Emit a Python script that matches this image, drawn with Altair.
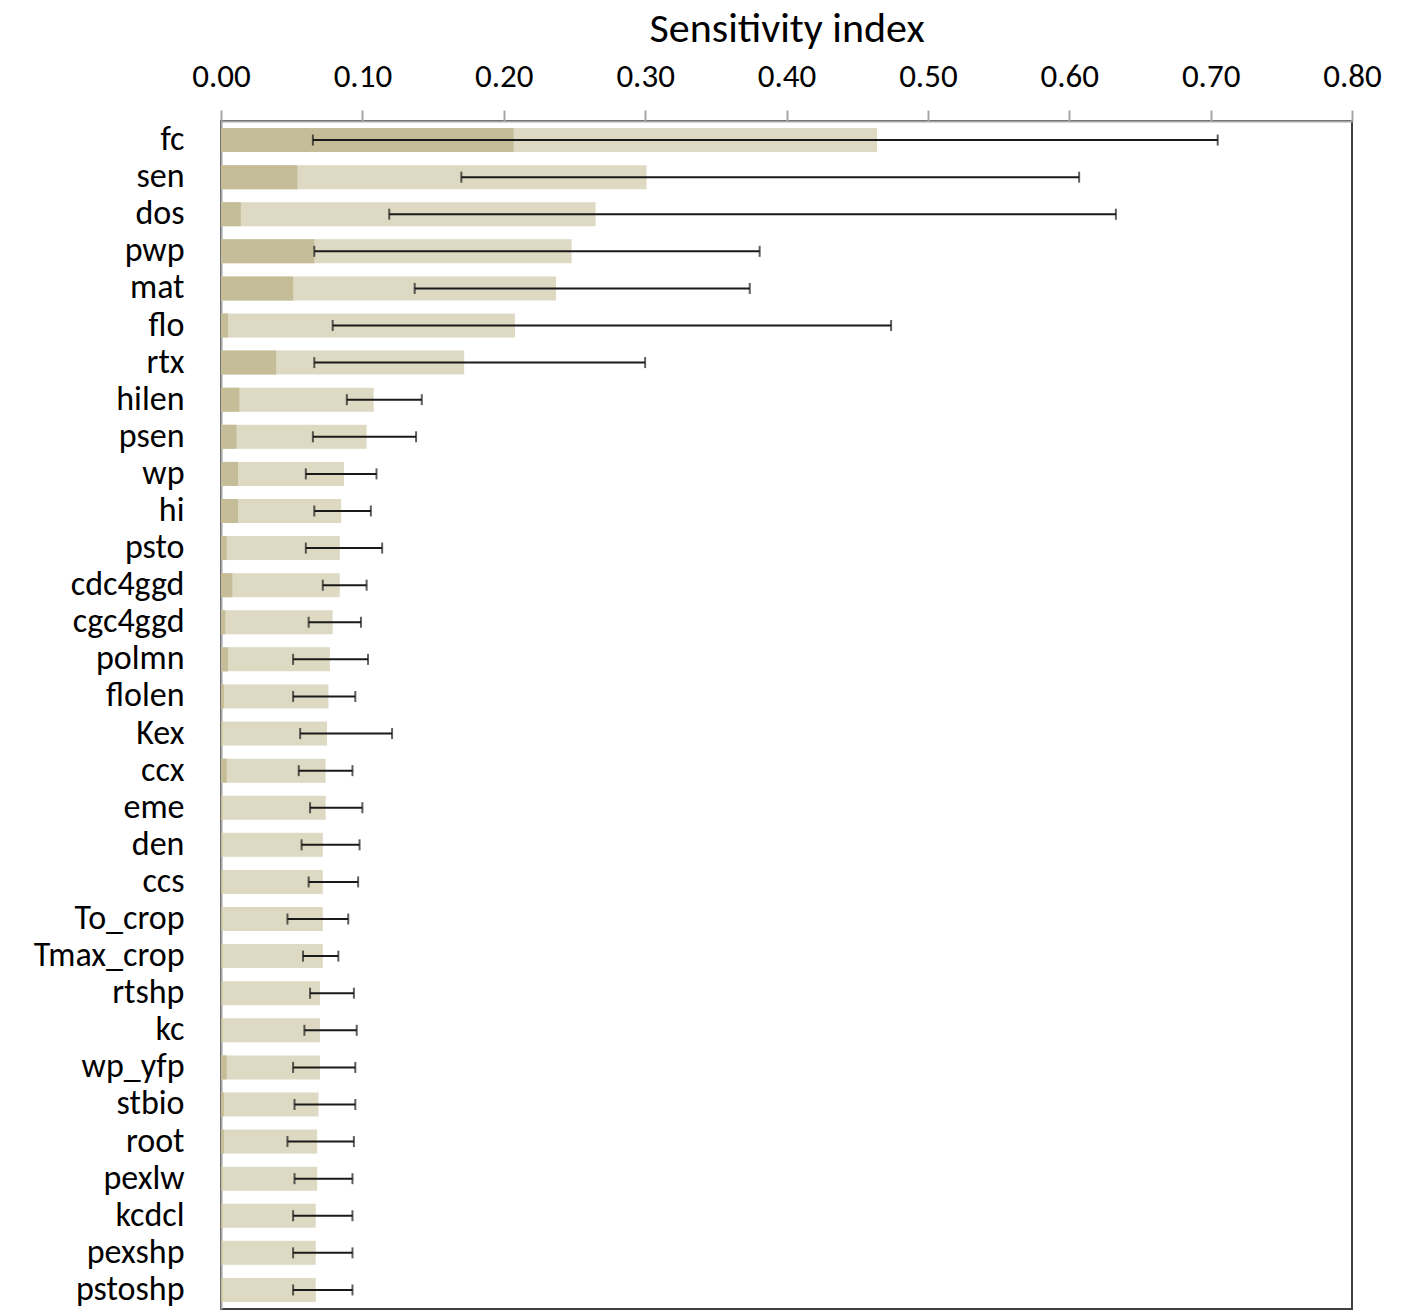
import altair as alt
import pandas as pd

params = ["fc", "sen", "dos", "pwp", "mat", "flo", "rtx", "hilen", "psen", "wp", "hi",
          "psto", "cdc4ggd", "cgc4ggd", "polmn", "flolen", "Kex", "ccx", "eme", "den",
          "ccs", "To_crop", "Tmax_crop", "rtshp", "kc", "wp_yfp", "stbio", "root",
          "pexlw", "kcdcl", "pexshp", "pstoshp"]

total_effect = [0.464, 0.301, 0.265, 0.248, 0.237, 0.208, 0.172, 0.108, 0.103, 0.087, 0.085,
                0.084, 0.084, 0.079, 0.077, 0.076, 0.075, 0.074, 0.074, 0.072,
                0.072, 0.072, 0.072, 0.070, 0.070, 0.070, 0.069, 0.068,
                0.068, 0.067, 0.067, 0.067]

first_order = [0.207, 0.054, 0.014, 0.066, 0.051, 0.005, 0.039, 0.013, 0.011, 0.012, 0.012,
               0.004, 0.008, 0.003, 0.005, 0.002, 0.001, 0.004, 0.001, 0.001,
               0.001, 0.001, 0.001, 0.001, 0.001, 0.004, 0.002, 0.002,
               0.001, 0.001, 0.001, 0.001]

ci_low = [0.065, 0.170, 0.119, 0.066, 0.137, 0.079, 0.066, 0.089, 0.065, 0.060, 0.066,
          0.060, 0.072, 0.062, 0.051, 0.051, 0.056, 0.055, 0.063, 0.057,
          0.062, 0.047, 0.058, 0.063, 0.059, 0.051, 0.052, 0.047,
          0.052, 0.051, 0.051, 0.051]

ci_high = [0.705, 0.607, 0.633, 0.381, 0.374, 0.474, 0.300, 0.142, 0.138, 0.110, 0.106,
           0.114, 0.103, 0.099, 0.104, 0.095, 0.121, 0.093, 0.100, 0.098,
           0.097, 0.090, 0.083, 0.094, 0.096, 0.095, 0.095, 0.094,
           0.093, 0.093, 0.093, 0.093]

df = pd.DataFrame({
    "param": params,
    "total": total_effect,
    "first": first_order,
    "lo": ci_low,
    "hi": ci_high,
})

FONT = "Carlito, Lato, sans-serif"

y_enc = alt.Y("param:N", sort=params,
              scale=alt.Scale(paddingInner=0.353, paddingOuter=0.19),
              axis=alt.Axis(title=None, ticks=False, labelFontSize=34, labelFont=FONT,
                            labelColor="black", labelPadding=37, labelLimit=400,
                            domainColor="#A6A6A6", domainWidth=2))

x_scale = alt.Scale(domain=[0, 0.8], nice=False)

base = alt.Chart(df)

bars_total = base.mark_bar(color="#DDD9C3").encode(
    y=y_enc,
    x=alt.X("total:Q", scale=x_scale,
            axis=alt.Axis(orient="top", title="Sensitivity index", format=".2f",
                          values=[0, 0.1, 0.2, 0.3, 0.4, 0.5, 0.6, 0.7, 0.8],
                          grid=False, tickSize=11, tickColor="#A6A6A6", tickWidth=2,
                          domainColor="#A6A6A6", domainWidth=2, labelFlush=False,
                          labelFontSize=33, labelFont=FONT, labelColor="black",
                          labelPadding=17, titleFontSize=42, titleFont=FONT,
                          titleFontWeight="normal", titleColor="black", titlePadding=10)),
)

bars_first = base.mark_bar(color="#C4BD97").encode(
    y=alt.Y("param:N", sort=params),
    x=alt.X("first:Q", scale=x_scale),
)

err_line = base.mark_rule(color="#1A1A1A", strokeWidth=2).encode(
    y=alt.Y("param:N", sort=params),
    x=alt.X("lo:Q", scale=x_scale),
    x2="hi:Q",
)

cap_lo = base.mark_tick(color="#1A1A1A", thickness=2, size=11).encode(
    y=alt.Y("param:N", sort=params),
    x=alt.X("lo:Q", scale=x_scale),
)
cap_hi = base.mark_tick(color="#1A1A1A", thickness=2, size=11).encode(
    y=alt.Y("param:N", sort=params),
    x=alt.X("hi:Q", scale=x_scale),
)

chart = alt.layer(bars_total, bars_first, err_line, cap_lo, cap_hi).properties(
    width=1131,
    height=1188,
    autosize=alt.AutoSizeParams(type="none"),
    padding={"left": 221, "top": 121, "right": 49, "bottom": 1},
).configure(
    background="white",
).configure_view(
    stroke="#404040",
    strokeWidth=2,
)

chart.save("out.html", embed_options={"renderer": "svg", "actions": False})
